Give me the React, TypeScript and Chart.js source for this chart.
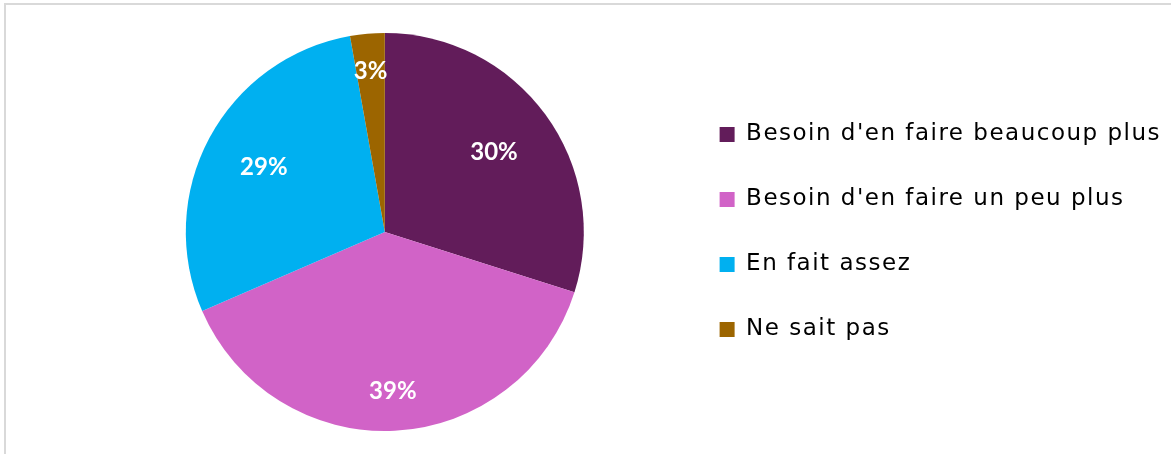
import React, { useEffect, useRef } from "react";
import { Chart, registerables } from "chart.js";

Chart.register(...registerables);

const categories = [
  "Besoin d'en faire beaucoup plus",
  "Besoin d'en faire un peu plus",
  "En fait assez",
  "Ne sait pas",
];
const values = [29.9, 38.6, 28.7, 2.8];
const sliceColors = ["#621C5A", "#D163C7", "#00B0F0", "#9C6500"];
// radial position of each percentage label, as a fraction of the radius
const labelRadius = [0.68, 0.8, 0.69, 0.81];

const legendSpacing = {
  id: "legendSpacing",
  beforeLayout(chart: any) {
    chart.ctx.letterSpacing = "1.5px";
  },
  beforeDraw(chart: any) {
    chart.ctx.letterSpacing = "1.5px";
  },
};

const pieLabels = {
  id: "pieLabels",
  afterDatasetsDraw(chart: any) {
    const { ctx } = chart;
    const meta = chart.getDatasetMeta(0);
    ctx.save();
    ctx.letterSpacing = "0px";
    ctx.fillStyle = "#ffffff";
    ctx.font = "bold 24px Lato, 'DejaVu Sans', sans-serif";
    ctx.textAlign = "center";
    ctx.textBaseline = "middle";
    meta.data.forEach((arc: any, i: number) => {
      const { x, y, startAngle, endAngle, outerRadius } = arc.getProps(
        ["x", "y", "startAngle", "endAngle", "outerRadius"],
        true
      );
      const mid = (startAngle + endAngle) / 2;
      const r = outerRadius * labelRadius[i];
      const txt = Math.round(values[i]) + "%";
      ctx.fillText(txt, x + Math.cos(mid) * r, y + Math.sin(mid) * r);
    });
    ctx.restore();
  },
};

export default function App() {
  const ref = useRef<HTMLCanvasElement>(null);
  useEffect(() => {
    if (!ref.current) return;
    const chart = new Chart(ref.current, {
      type: "pie",
      data: {
        labels: categories,
        datasets: [
          {
            data: values,
            backgroundColor: sliceColors,
            borderWidth: 0,
          },
        ],
      },
      options: {
        responsive: false,
        animation: false,
        layout: { padding: { left: 92, right: 0, top: 33, bottom: 23 } },
        plugins: {
          tooltip: { enabled: false },
          legend: {
            position: "right",
            align: "center",
            maxWidth: 495,
            labels: {
              boxWidth: 15,
              boxHeight: 15,
              padding: 42,
              color: "#000000",
              font: { family: "'DejaVu Sans', sans-serif", size: 23 },
            },
          },
        },
      },
      plugins: [legendSpacing, pieLabels],
    });
    return () => chart.destroy();
  }, []);

  return (
    <div
      style={{
        position: "fixed",
        left: 0,
        top: 0,
        width: 1171,
        height: 454,
        overflow: "hidden",
        background: "#ffffff",
      }}
    >
      <div
        style={{
          position: "absolute",
          left: 4,
          top: 3,
          width: 1300,
          height: 600,
          border: "2px solid #d9d9d9",
        }}
      />
      <canvas
        ref={ref}
        width={1171}
        height={454}
        style={{ position: "absolute", left: 0, top: 0 }}
      />
    </div>
  );
}
